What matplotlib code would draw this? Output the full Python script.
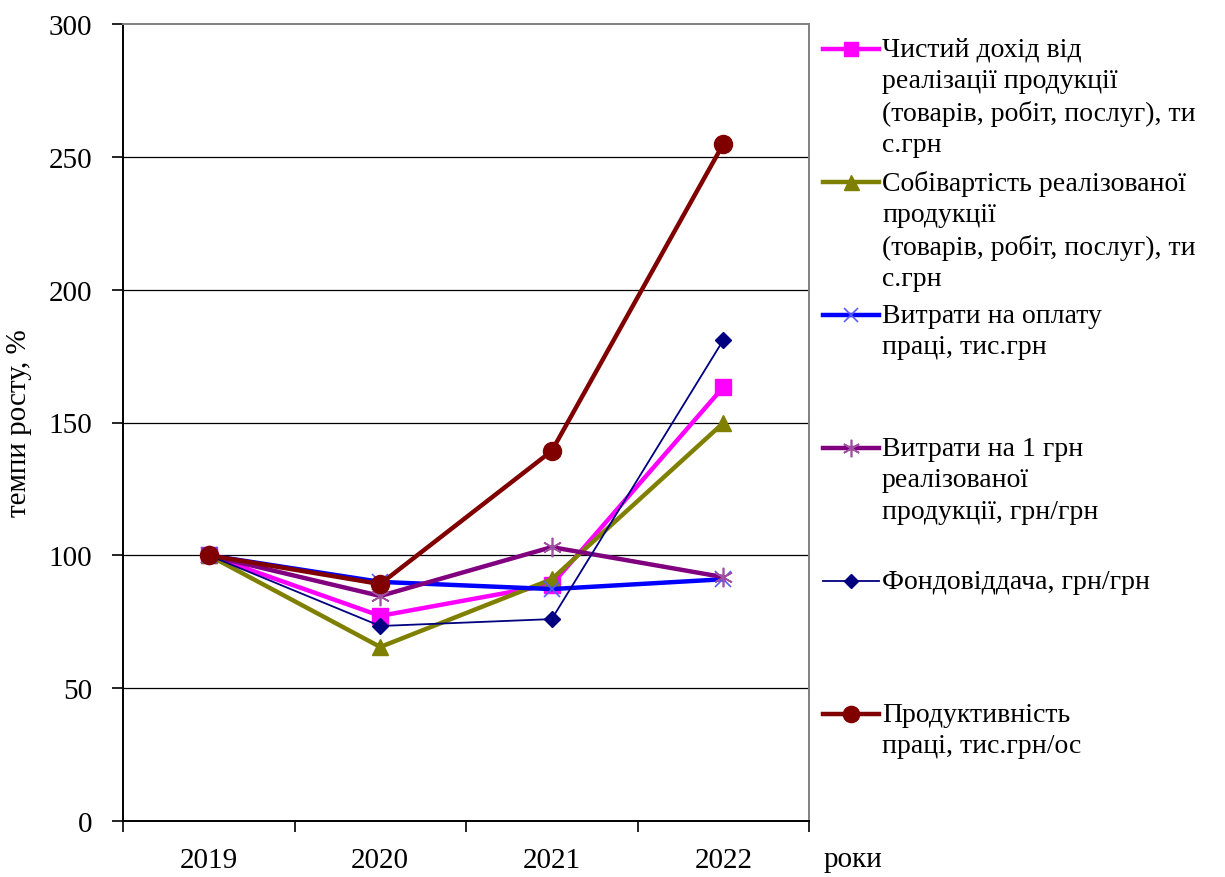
import numpy as np
import matplotlib.pyplot as plt
from matplotlib.lines import Line2D

plt.rcParams['font.family'] = ['Liberation Serif', 'DejaVu Serif']

years = ['2019', '2020', '2021', '2022']

net_income = [100, 77.2, 89.0, 163.3]
cost_of_sales = [100, 65.5, 91.0, 149.8]
labour_costs = [100, 90.0, 87.3, 91.0]
cost_per_uah = [100, 84.7, 103.1, 91.8]
asset_return = [100, 73.4, 76.0, 181.0]
productivity = [100, 89.2, 139.3, 254.8]

labels = [
    'Чистий дохід від\nреалізації продукції\n(товарів, робіт, послуг), ти\nс.грн',
    'Собівартість реалізованої\nпродукції\n(товарів, робіт, послуг), ти\nс.грн',
    'Витрати на оплату\nпраці, тис.грн',
    'Витрати на 1 грн\nреалізованої\nпродукції, грн/грн',
    'Фондовіддача, грн/грн',
    'Продуктивність\nпраці, тис.грн/ос',
]

series = [net_income, cost_of_sales, labour_costs, cost_per_uah, asset_return, productivity]
styles = [
    dict(color='#FF00FF', lw=3.2, marker='s', ms=11, mfc='#FF00FF', mec='#FF00FF'),
    dict(color='#808000', lw=3.2, marker='^', ms=12, mfc='#808000', mec='#808000'),
    dict(color='#0000FF', lw=3.2, marker='x', ms=11, mec='#5A5AFF', mew=1.2),
    dict(color='#800080', lw=3.2, marker=(6, 2, 0), ms=14, mec='#A050A0', mew=1.2),
    dict(color='#000080', lw=1.3, marker='D', ms=8, mfc='#000080', mec='#000080'),
    dict(color='#800000', lw=3.2, marker='o', ms=13, mfc='#800000', mec='#800000'),
]

fig = plt.figure(figsize=(12.25, 8.78), dpi=100)
ax = fig.add_axes([123 / 1225, 1 - 822 / 878, (809 - 123) / 1225, (822 - 25) / 878])

x = np.arange(len(years))
for vals, st in zip(series, styles):
    ax.plot(x, vals, **st)

ax.set_xlim(-0.5, len(years) - 0.5)
ax.set_ylim(0, 300)
ax.set_yticks(np.arange(0, 301, 50))
for yv in np.arange(50, 300, 50):
    ax.axhline(yv, color='black', lw=0.9, zorder=0)

ax.set_xticks(np.arange(-0.5, len(years), 1.0))
ax.set_xticklabels([])
ax.set_xticks(x, minor=True)
ax.set_xticklabels(years, minor=True)
ax.tick_params(axis='x', which='major', direction='out', length=8, width=1.2)
ax.tick_params(axis='x', which='minor', length=0, pad=19, labelsize=21)
ax.tick_params(axis='y', direction='out', length=8, width=1.2, pad=14, labelsize=21)

for side in ['left', 'bottom']:
    ax.spines[side].set_color('black')
    ax.spines[side].set_linewidth(1.4)
for side in ['top', 'right']:
    ax.spines[side].set_color('#808080')
    ax.spines[side].set_linewidth(1.4)

ax.set_ylabel('темпи росту, %', fontsize=21, labelpad=12)
fig.text(824 / 1225, 1 - 860 / 878, 'роки', fontsize=21, va='center', ha='left')

# legend, equal slots like Excel
slot_top = 50
slot_step = 133
for i, (lbl, st) in enumerate(zip(labels, styles)):
    yy = 1 - (slot_top + i * slot_step) / 878
    lw = st['lw'] if st['lw'] < 2 else 3.2
    fig.add_artist(Line2D([823 / 1225, 879 / 1225], [yy, yy], transform=fig.transFigure,
                          color=st['color'], lw=lw))
    mk = {k: v for k, v in st.items() if k not in ('lw', 'color')}
    mk['ms'] = mk['ms'] * 0.9
    fig.add_artist(Line2D([851 / 1225], [yy], transform=fig.transFigure,
                          color=st['color'], lw=0, **mk))
    fig.text(882 / 1225, yy + 12 / 878, lbl, fontsize=20, va='top', ha='left',
             linespacing=1.33)

fig.savefig('out.png', dpi=100)
